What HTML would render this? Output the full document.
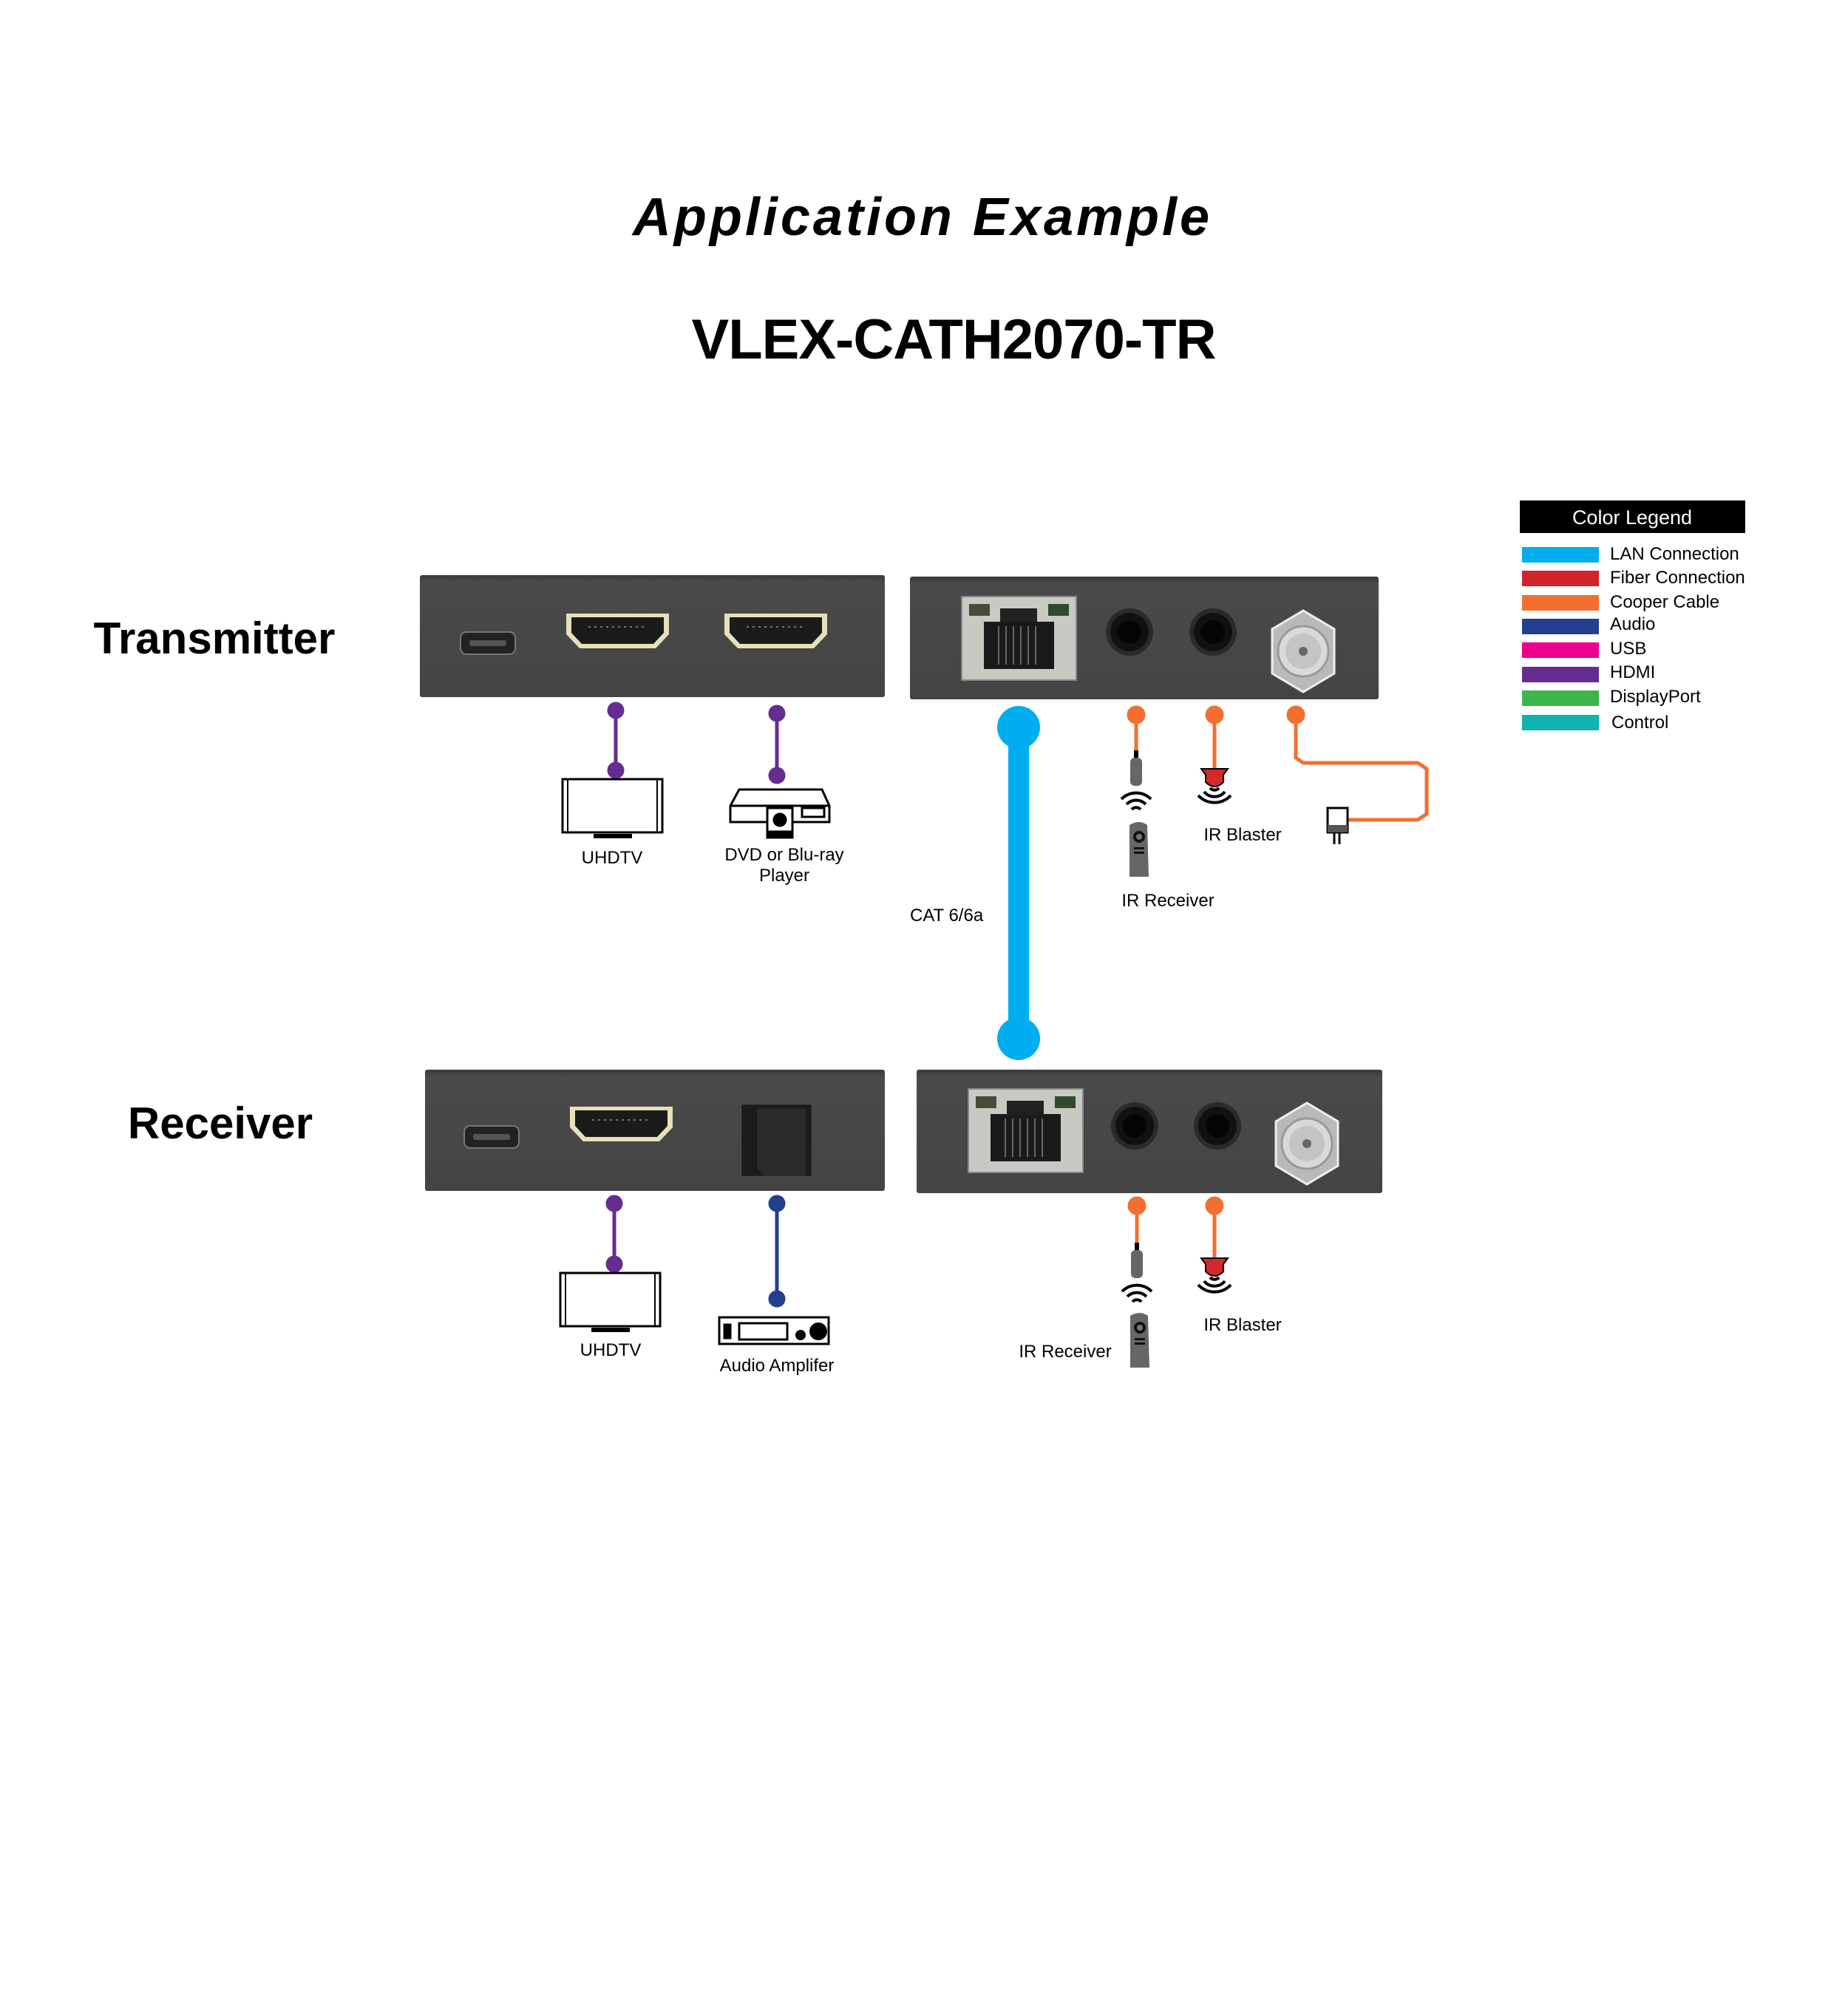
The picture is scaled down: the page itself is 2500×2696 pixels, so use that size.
<!DOCTYPE html>
<html><head><meta charset="utf-8"><style>
html,body{margin:0;padding:0;background:#fff}
svg{display:block}
text{font-family:"Liberation Sans",sans-serif}
</style></head><body>
<svg width="2500" height="2696" viewBox="0 0 2500 2696" xmlns="http://www.w3.org/2000/svg">
<defs>
<linearGradient id="pan" x1="0" y1="0" x2="0" y2="1"><stop offset="0" stop-color="#3a3a3a"/><stop offset="0.06" stop-color="#4a4a4a"/><stop offset="1" stop-color="#444"/></linearGradient>
<g id="hdmi">
<path d="M0,4 h139 v28 l-18,19 h-103 l-18,-19z" fill="#e9dfb8"/>
<path d="M7,9 h125 v21 l-14,15 h-97 l-14,-15z" fill="#1b1b1b"/>
<line x1="30" y1="22" x2="110" y2="22" stroke="#777" stroke-width="2" stroke-dasharray="3,5"/>
</g>
<g id="usb"><rect x="0" y="0" width="74" height="30" rx="8" fill="#222" stroke="#777" stroke-width="2"/><rect x="12" y="11" width="50" height="8" rx="3" fill="#555"/></g>
<g id="rj">
<rect x="0" y="0" width="155" height="113" fill="#c9c9c4" stroke="#888" stroke-width="2"/>
<rect x="10" y="10" width="28" height="16" fill="#4a4a38"/><rect x="117" y="10" width="28" height="16" fill="#2f4a30"/>
<rect x="52" y="16" width="50" height="22" fill="#222"/>
<rect x="30" y="34" width="95" height="64" fill="#1a1a1a"/>
<g stroke="#666" stroke-width="2"><line x1="50" y1="40" x2="50" y2="92"/><line x1="60" y1="40" x2="60" y2="92"/><line x1="70" y1="40" x2="70" y2="92"/><line x1="80" y1="40" x2="80" y2="92"/><line x1="90" y1="40" x2="90" y2="92"/><line x1="100" y1="40" x2="100" y2="92"/></g>
</g>
<g id="jack"><circle r="32" fill="#2a2a2a"/><circle r="26" fill="#111"/><circle r="16" fill="#050505"/></g>
<g id="coax"><polygon points="0,-55 42,-30 42,30 0,55 -42,30 -42,-30" fill="#b9b9b9" stroke="#eee" stroke-width="3"/><circle r="34" fill="#d9d9d9" stroke="#999" stroke-width="3"/><circle r="24" fill="#c4c4c4"/><circle r="6" fill="#666"/></g>
<g id="tv"><rect x="0" y="0" width="135" height="72" fill="#fff" stroke="#000" stroke-width="3"/><line x1="7" y1="0" x2="7" y2="72" stroke="#000" stroke-width="2"/><line x1="128" y1="0" x2="128" y2="72" stroke="#000" stroke-width="2"/><rect x="42" y="74" width="52" height="6" fill="#000"/></g>
<g id="irr">
<rect x="-3" y="0" width="6" height="10" fill="#000"/>
<rect x="-8" y="10" width="16" height="38" rx="6" fill="#666"/>
<g fill="none" stroke="#000" stroke-width="4"><path d="M-20,66 a28,28 0 0 1 40,0"/><path d="M-13,73 a18,18 0 0 1 26,0"/><path d="M-6,80 a8,8 0 0 1 12,0"/></g>
</g>
<g id="remote"><path d="M-13,4 q13,-8 24,0 l2,70 h-26z" fill="#666"/><circle cx="0" cy="20" r="8" fill="#111"/><circle cx="0" cy="20" r="4" fill="#777"/><g fill="#111"><rect x="-7" y="34" width="14" height="3"/><rect x="-7" y="40" width="14" height="3"/></g></g>
<g id="irb">
<path d="M-18,0 h36 l-6,8 v10 q-12,12 -24,0 v-10z" fill="#d12a2a" stroke="#000" stroke-width="2"/>
<g fill="none" stroke="#000" stroke-width="4"><path d="M-6,26 a8,8 0 0 0 12,0"/><path d="M-14,31 a18,18 0 0 0 28,0"/><path d="M-22,36 a30,30 0 0 0 44,0"/></g>
</g>
</defs>

<text x="1248" y="318" text-anchor="middle" font-size="72" font-weight="bold" font-style="italic" letter-spacing="4">Application Example</text>
<text x="1290" y="485" text-anchor="middle" font-size="76" font-weight="bold" letter-spacing="-1">VLEX-CATH2070-TR</text>

<!-- Legend -->
<rect x="2056" y="677" width="305" height="44" fill="#000"/>
<text x="2208" y="709" text-anchor="middle" font-size="27" fill="#fff">Color Legend</text>
<g font-size="24">
<rect x="2059" y="740" width="104" height="21" fill="#00aeef"/><text x="2178" y="757">LAN Connection</text>
<rect x="2059" y="772" width="104" height="21" fill="#d2232a"/><text x="2178" y="789">Fiber Connection</text>
<rect x="2059" y="805" width="104" height="21" fill="#f26f2f"/><text x="2178" y="822">Cooper Cable</text>
<rect x="2059" y="837" width="104" height="21" fill="#253f8f"/><text x="2178" y="852">Audio</text>
<rect x="2059" y="869" width="104" height="21" fill="#ec008c"/><text x="2178" y="885">USB</text>
<rect x="2059" y="902" width="104" height="21" fill="#662d91"/><text x="2178" y="917">HDMI</text>
<rect x="2059" y="934" width="104" height="21" fill="#3db54a"/><text x="2178" y="950">DisplayPort</text>
<rect x="2059" y="967" width="104" height="21" fill="#11b2b0"/><text x="2180" y="985">Control</text>
</g>

<text x="290" y="884" text-anchor="middle" font-size="60" font-weight="bold">Transmitter</text>
<text x="298" y="1540" text-anchor="middle" font-size="60" font-weight="bold">Receiver</text>

<!-- TX panels -->
<rect x="568" y="778" width="629" height="165" fill="url(#pan)" rx="3"/>
<use href="#usb" x="623" y="855"/>
<use href="#hdmi" x="766" y="826"/>
<use href="#hdmi" x="980" y="826"/>
<rect x="1231" y="780" width="634" height="166" fill="url(#pan)" rx="3"/>
<use href="#rj" x="1301" y="807"/>
<use href="#jack" x="1528" y="855"/>
<use href="#jack" x="1641" y="855"/>
<use href="#coax" x="1763" y="881"/>

<!-- TX connections -->
<g stroke="#662d91" stroke-width="5" fill="#662d91">
<line x1="833" y1="961" x2="833" y2="1042"/><circle cx="833" cy="961" r="9"/><circle cx="833" cy="1042" r="9"/>
<line x1="1051" y1="965" x2="1051" y2="1049"/><circle cx="1051" cy="965" r="9"/><circle cx="1051" cy="1049" r="9"/>
</g>
<use href="#tv" x="761" y="1054"/>
<g stroke="#000" stroke-width="3" fill="#fff">
<path d="M1000,1068 h112 l10,22 v22 h-134 v-22z"/>
<line x1="988" y1="1090" x2="1122" y2="1090"/>
<rect x="1038" y="1093" width="34" height="32"/><circle cx="1055" cy="1109" r="8" fill="#000"/>
<rect x="1085" y="1093" width="30" height="12"/>
<rect x="1038" y="1125" width="34" height="8" fill="#000"/>
</g>
<text x="828" y="1168" text-anchor="middle" font-size="24">UHDTV</text>
<text x="1061" y="1164" text-anchor="middle" font-size="24">DVD or Blu-ray</text>
<text x="1061" y="1192" text-anchor="middle" font-size="24">Player</text>

<!-- LAN -->
<line x1="1378" y1="984" x2="1378" y2="1405" stroke="#00aeef" stroke-width="28"/>
<circle cx="1378" cy="984" r="29" fill="#00aeef"/><circle cx="1378" cy="1405" r="29" fill="#00aeef"/>
<text x="1231" y="1246" font-size="24">CAT 6/6a</text>

<!-- TX orange -->
<g stroke="#f26f2f" stroke-width="5" fill="#f26f2f">
<line x1="1537" y1="967" x2="1537" y2="1025"/><circle cx="1537" cy="967" r="10"/>
<line x1="1643" y1="967" x2="1643" y2="1040"/><circle cx="1643" cy="967" r="10"/>
<circle cx="1753" cy="967" r="10"/>
<polyline points="1753,967 1753,1025 1763,1032 1918,1032 1930,1040 1930,1101 1918,1109 1823,1109" fill="none"/>
</g>
<use href="#irr" x="1537" y="1015"/>
<use href="#remote" x="1541" y="1112"/>
<use href="#irb" x="1643" y="1040"/>
<rect x="1796" y="1093" width="27" height="33" fill="#fff" stroke="#000" stroke-width="3"/>
<rect x="1796" y="1116" width="27" height="10" fill="#555"/>
<g stroke="#000" stroke-width="3"><line x1="1805" y1="1126" x2="1805" y2="1142"/><line x1="1812" y1="1126" x2="1812" y2="1142"/></g>
<text x="1681" y="1137" text-anchor="middle" font-size="24">IR Blaster</text>
<text x="1580" y="1226" text-anchor="middle" font-size="24">IR Receiver</text>

<!-- RX panels -->
<rect x="575" y="1447" width="622" height="164" fill="url(#pan)" rx="3"/>
<use href="#usb" x="628" y="1523"/>
<use href="#hdmi" x="771" y="1493"/>
<rect x="1004" y="1495" width="93" height="95" fill="#1c1c1c" stroke="#111"/>
<path d="M1024,1500 h66 v90 h-56 l-10,-10z" fill="#2b2b2b"/>
<rect x="1240" y="1447" width="630" height="167" fill="url(#pan)" rx="3"/>
<use href="#rj" x="1310" y="1473"/>
<use href="#jack" x="1535" y="1523"/>
<use href="#jack" x="1647" y="1523"/>
<use href="#coax" x="1768" y="1547"/>

<!-- RX connections -->
<g stroke="#662d91" stroke-width="5" fill="#662d91">
<line x1="831" y1="1628" x2="831" y2="1710"/><circle cx="831" cy="1628" r="9"/><circle cx="831" cy="1710" r="9"/>
</g>
<g stroke="#253f8f" stroke-width="5" fill="#253f8f">
<line x1="1051" y1="1628" x2="1051" y2="1757"/><circle cx="1051" cy="1628" r="9"/><circle cx="1051" cy="1757" r="9"/>
</g>
<use href="#tv" x="758" y="1722"/>
<g stroke="#000" stroke-width="3" fill="#fff">
<rect x="973" y="1782" width="148" height="36"/>
<rect x="980" y="1792" width="8" height="18" fill="#000"/>
<rect x="1000" y="1790" width="65" height="22"/>
</g>
<circle cx="1083" cy="1806" r="7"/><circle cx="1107" cy="1801" r="12"/>
<text x="826" y="1834" text-anchor="middle" font-size="24">UHDTV</text>
<text x="1051" y="1855" text-anchor="middle" font-size="24">Audio Amplifer</text>

<g stroke="#f26f2f" stroke-width="5" fill="#f26f2f">
<line x1="1538" y1="1631" x2="1538" y2="1691"/><circle cx="1538" cy="1631" r="10"/>
<line x1="1643" y1="1631" x2="1643" y2="1702"/><circle cx="1643" cy="1631" r="10"/>
</g>
<use href="#irr" x="1538" y="1681"/>
<use href="#remote" x="1542" y="1776"/>
<use href="#irb" x="1643" y="1702"/>
<text x="1681" y="1800" text-anchor="middle" font-size="24">IR Blaster</text>
<text x="1441" y="1836" text-anchor="middle" font-size="24">IR Receiver</text>
</svg>
</body></html>
